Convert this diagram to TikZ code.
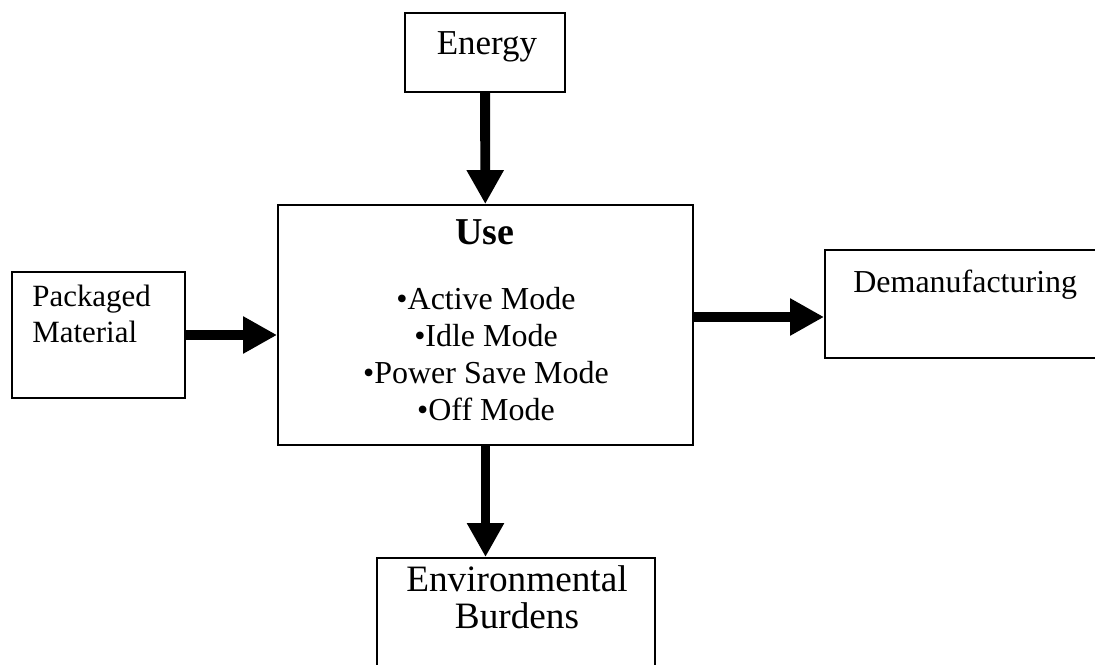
\documentclass[tikz,border=0pt]{standalone}
\usepackage{fontspec}
\setmainfont{Liberation Serif}
\usepackage{tikz}
\usetikzlibrary{arrows.meta}
\usetikzlibrary{positioning}

\tikzset{
  box/.style={draw,line width=1.1pt,inner sep=0pt},
  flow/.style={line width=5.6pt,-{Triangle[length=0.68cm,width=0.7cm]}},
  lbl/.style={inner sep=0pt,anchor=base},
}

\begin{document}
\begin{tikzpicture}[x=0.02cm,y=-0.02cm]
   \useasboundingbox (0,0) rectangle (1095,665);
   % boxes
   \node[box,minimum width=3.2cm,minimum height=1.58cm] (energy) at (485,52.5) {};
   \node[box,minimum width=8.3cm,minimum height=4.8cm] (use) at (485.5,325) {};
   \node[box,minimum width=3.46cm,minimum height=2.52cm] (pack) at (98.5,335) {};
   \node[box,minimum width=5.6cm,minimum height=2.16cm] (dem) at (965,304) {};
   \node[box,minimum width=5.56cm,minimum height=3.24cm] (env) at (516,639) {};

   % texts (base of a multi-line node = last line)
   \node[lbl,font=\fontsize{19.9}{24}\selectfont] (energytxt) at (487,55) {Energy};
   \node[lbl,font=\bfseries\fontsize{21.6}{26}\selectfont] (usetxt) at (485,245) {Use};
   \node[lbl,align=center,font=\fontsize{18.2}{20.9}\selectfont] (modes) at (486,420)
      {•Active Mode\\•Idle Mode\\•Power Save Mode\\•Off Mode};
   \node[lbl,anchor=base west,align=left,font=\fontsize{17.6}{20.5}\selectfont] (packtxt) at (32,343)
      {Packaged\\Material};
   \node[lbl,anchor=base west,font=\fontsize{18.2}{22}\selectfont] (demtxt) at (853,293) {Demanufacturing};
   \node[lbl,align=center,font=\fontsize{21.2}{20.5}\selectfont] (envtxt) at (517,628)
      {Environmental\\Burdens};

   % arrows
   \coordinate (out) at (use.east |- 0,317);
   \draw[flow] (energy) -- (use);
   \draw[flow] (pack.east) -- (pack.east -| use.west);
   \draw[flow] (out) -- (out -| dem.west);
   \draw[flow] (use.south) -- (use.south |- env.north);
\end{tikzpicture}
\end{document}
